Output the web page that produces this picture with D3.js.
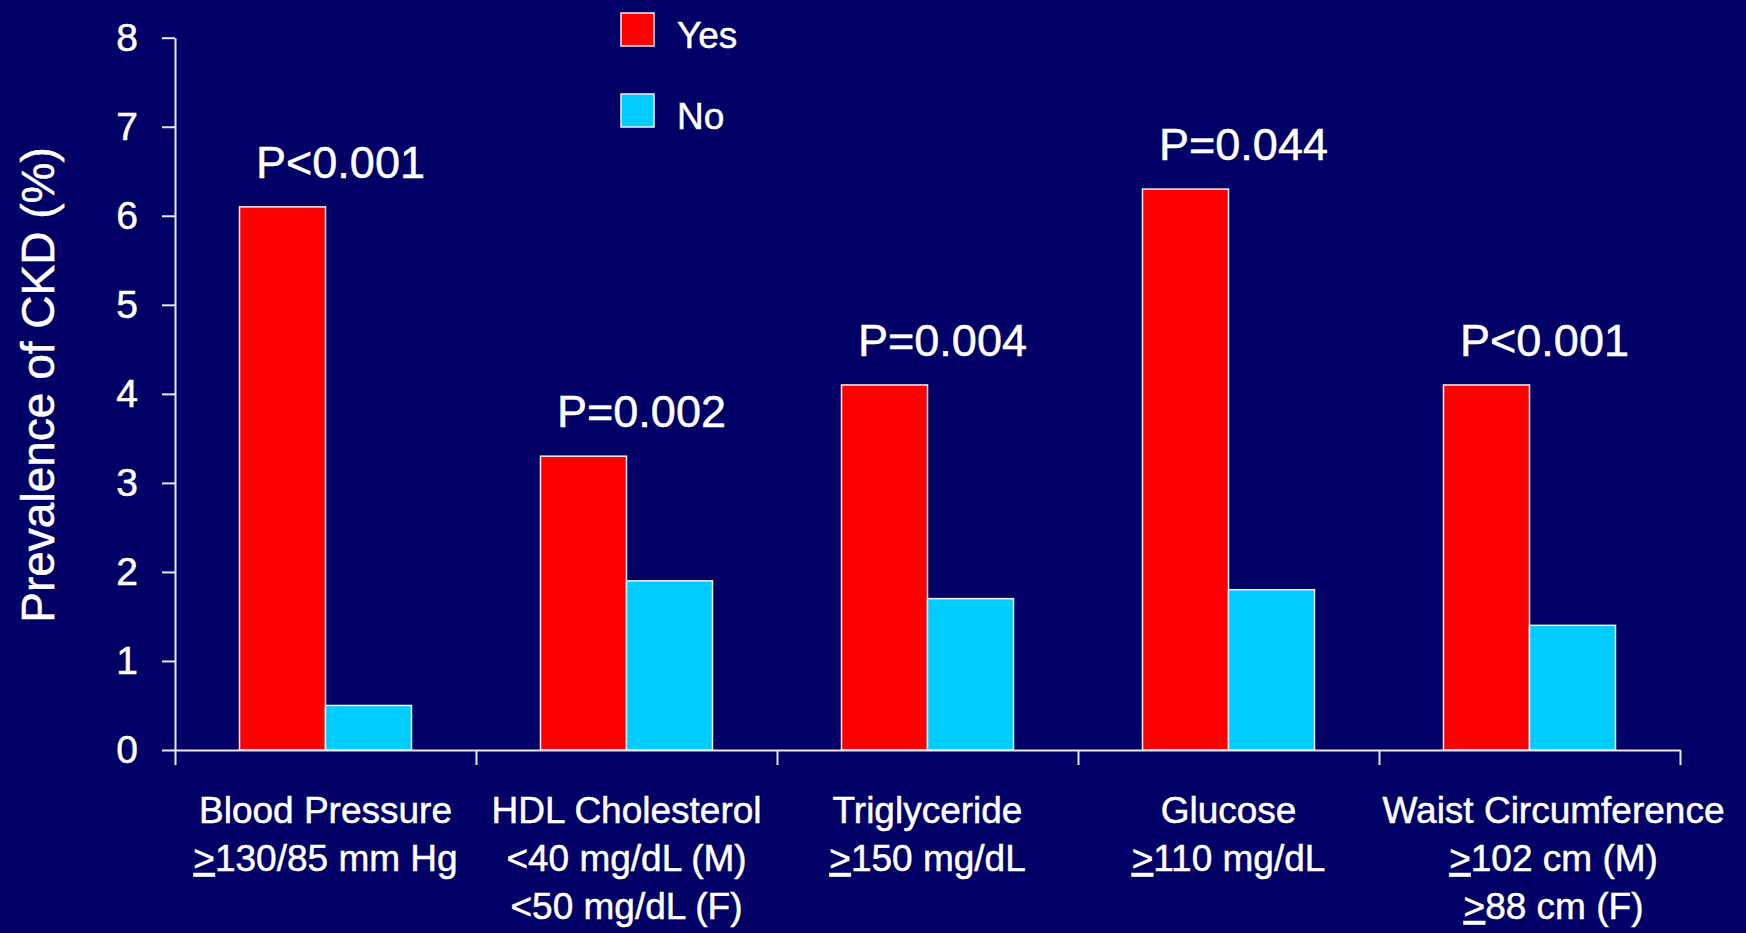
<!DOCTYPE html>
<html>
<head>
<meta charset="utf-8">
<script src="https://cdn.jsdelivr.net/npm/d3@7"></script>
<style>
  html, body { margin: 0; padding: 0; background: #000066; }
  svg { display: block; }
  text { font-family: "Liberation Sans", Arial, sans-serif; fill: #ffffff; stroke: #ffffff; stroke-width: 0.5px; }
</style>
</head>
<body>
<svg id="chart" width="1746" height="933"></svg>
<script>
// ---- data ----
const categories = ["Blood Pressure", "HDL Cholesterol", "Triglyceride", "Glucose", "Waist Circumference"];
const criteria = [
  ["≥130/85 mm Hg"],
  ["<40 mg/dL (M)", "<50 mg/dL (F)"],
  ["≥150 mg/dL"],
  ["≥110 mg/dL"],
  ["≥102 cm (M)", "≥88 cm (F)"]
];
const seriesNames = ["Yes", "No"];
const yesValues = [6.1, 3.3, 4.1, 6.3, 4.1];
const noValues = [0.5, 1.9, 1.7, 1.8, 1.4];
const pValues = ["P<0.001", "P=0.002", "P=0.004", "P=0.044", "P<0.001"];
const yTicks = [0, 1, 2, 3, 4, 5, 6, 7, 8];
const yTitle = "Prevalence of CKD (%)";

// ---- layout ----
const colors = { Yes: "#ff0000", No: "#00ccff" };
const axisColor = "#e8e8f0";
const svg = d3.select("#chart");

const x = d3.scaleBand().domain(categories).range([175, 1680]).paddingInner(0).paddingOuter(0);
const x1 = d3.scaleBand().domain(seriesNames).range([0, x.bandwidth()]).paddingInner(0).paddingOuter(0.75);
const y = d3.scaleLinear().domain([0, 8]).range([750, 37.7]);
const xEdge = d3.scaleLinear().domain([0, categories.length]).range(x.range());

const rows = categories.map((c, i) => ({ cat: c, Yes: yesValues[i], No: noValues[i], p: pValues[i], crit: criteria[i] }));

// bars
const groups = svg.append("g").selectAll("g").data(rows).join("g")
  .attr("transform", d => `translate(${x(d.cat)},0)`);
groups.selectAll("rect").data(d => seriesNames.map(s => ({ s, v: d[s] }))).join("rect")
  .attr("x", d => x1(d.s))
  .attr("y", d => y(d.v))
  .attr("width", x1.bandwidth())
  .attr("height", d => y(0) - y(d.v))
  .attr("fill", d => colors[d.s])
  .attr("stroke", "#f0f0f8")
  .attr("stroke-width", 1.5);

// p-value labels
svg.append("g").selectAll("text").data(rows).join("text")
  .attr("x", d => x(d.cat) + x.bandwidth() / 2 + 15)
  .attr("y", d => y(d.Yes) - 29)
  .attr("text-anchor", "middle")
  .attr("font-size", 45)
  .text(d => d.p);

// y axis
const yAxis = svg.append("g").attr("transform", `translate(${x.range()[0]},0)`)
  .call(d3.axisLeft(y).tickValues(yTicks).tickFormat(d3.format("d")).tickSizeInner(13).tickSizeOuter(0).tickPadding(24));
yAxis.selectAll("path, line").attr("stroke", axisColor).attr("stroke-width", 2);
yAxis.selectAll("text").attr("font-size", 39).attr("fill", "#fff")
  .style("font-family", '"Liberation Sans", Arial, sans-serif');

// x axis (ticks at category boundaries)
const xAxis = svg.append("g").attr("transform", `translate(0,${y(0)})`)
  .call(d3.axisBottom(xEdge).tickValues(d3.range(categories.length + 1)).tickFormat("").tickSizeInner(15).tickSizeOuter(0));
xAxis.selectAll("path, line").attr("stroke", axisColor).attr("stroke-width", 2);

// category labels
const labelShift = (i) => (i === categories.length - 1 ? 24 : 0);
const lab = svg.append("g").selectAll("text").data(rows).join("text")
  .attr("text-anchor", "middle")
  .attr("font-size", 37)
  .attr("transform", (d, i) => `translate(${x(d.cat) + x.bandwidth() / 2 + labelShift(i)},0)`);
lab.each(function (d) {
  const t = d3.select(this);
  t.append("tspan").attr("x", 0).attr("y", 823).text(d.cat);
  d.crit.forEach((line, j) => {
    const ts = t.append("tspan").attr("x", 0).attr("y", 871 + j * 48);
    if (line.startsWith("≥")) {
      ts.append("tspan").style("text-decoration", "underline").text(">");
      ts.append("tspan").text(line.slice(1));
    } else {
      ts.text(line);
    }
  });
});

// y title
svg.append("text")
  .attr("transform", "translate(54,385) rotate(-90)")
  .attr("text-anchor", "middle")
  .attr("font-size", 46)
  .text(yTitle);

// legend
const legend = svg.append("g").selectAll("g").data(seriesNames).join("g")
  .attr("transform", (d, i) => `translate(621,${13 + i * 81})`);
legend.append("rect")
  .attr("width", 33).attr("height", 33)
  .attr("fill", d => colors[d])
  .attr("stroke", "#f0f0f8").attr("stroke-width", 1.5);
legend.append("text")
  .attr("x", 56).attr("y", 35)
  .attr("font-size", 37)
  .text(d => d);
</script>
</body>
</html>
